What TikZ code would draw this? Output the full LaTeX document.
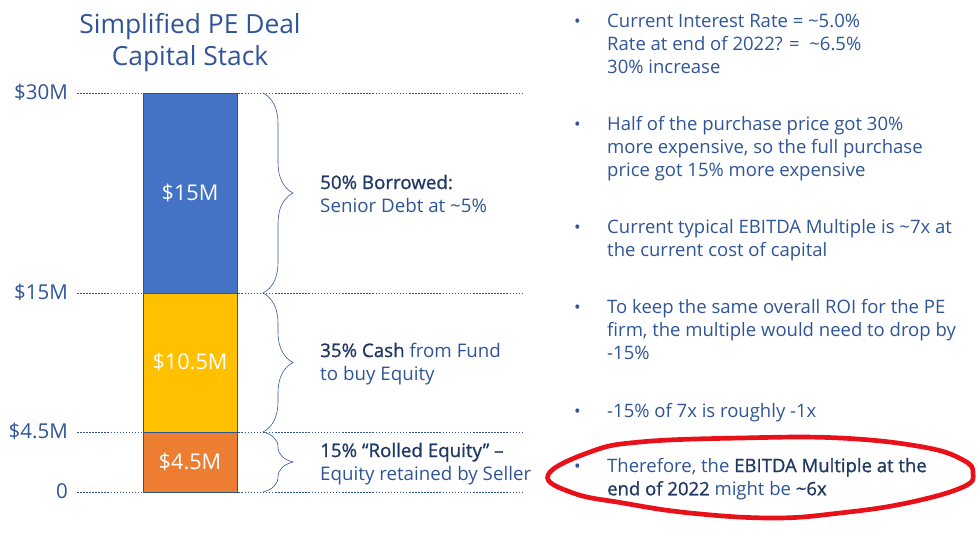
\documentclass[tikz,border=0pt]{standalone}
\usepackage{fontspec}
\setmainfont{Open Sans}
\newfontfamily\emfont{Open Sans}[FakeBold=1]
\usetikzlibrary{decorations.pathreplacing}
\definecolor{txtblue}{RGB}{47,85,151}
\definecolor{navy}{RGB}{31,56,100}
\definecolor{debtblue}{RGB}{68,114,196}
\definecolor{cashgold}{RGB}{255,192,0}
\definecolor{rollorange}{RGB}{237,125,49}
\definecolor{barline}{RGB}{47,82,143}
\definecolor{markred}{RGB}{232,17,25}
\newcommand{\hl}[1]{{\emfont\color{navy}#1}}

\begin{document}
\begin{tikzpicture}[x=0.3mm,y=-0.3mm,
  every node/.style={text=txtblue,inner sep=0pt},
  level/.style={txtblue,line width=0.6pt,dash pattern=on 1.3pt off 1.3pt},
  block/.style={draw=barline,line width=0.6pt},
  brc/.style={draw=txtblue,line width=0.5pt,decorate,decoration={brace,amplitude=9mm,aspect=0.5}},
  lbl/.style={font=\fontsize{16}{19.6}\selectfont,anchor=base west,align=left},
  tick/.style={font=\fontsize{17.5}{20}\selectfont,anchor=base east},
  inbar/.style={text=white,font=\fontsize{18.5}{20}\selectfont},
  pt/.style={font=\fontsize{15.8}{19.8}\selectfont,anchor=base west,align=left}]
\useasboundingbox (0,0) rectangle (980,539);

% (multi-line nodes sit on the baseline of their last line)
\node[font=\fontsize{22.5}{27}\selectfont,align=center,anchor=base] (title) at (190,65) {Simplified PE Deal\\Capital Stack};

% value levels
\foreach \y/\t in {93/\$30M,293/\$15M,432/\$4.5M,492/0}{
  \draw[level] (77,\y) -- (524,\y);
  \node[tick] at (68,\y+6) {\t};
}

% the stack
\draw[block,fill=debtblue] (143,93) rectangle (237,293);
\draw[block,fill=cashgold] (143,293) rectangle (237,432);
\draw[block,fill=rollorange] (143,432) rectangle (237,492);
\node[inbar] (debt) at (190,193) {\$15M};
\node[inbar] (cash) at (190,362) {\$10.5M};
\node[inbar] (roll) at (190,462) {\$4.5M};

\draw[brc] (263,93) -- (263,293);
\draw[brc] (263,293) -- (263,432);
\draw[brc] (263,432) -- (263,492);
\node[lbl] (debtlbl) at (320,212) {\hl{50\% Borrowed:}\\Senior Debt at \textasciitilde5\%};
\node[lbl] (cashlbl) at (320,380) {\hl{35\% Cash} from Fund\\to buy Equity};
\node[lbl] (rolllbl) at (320,480) {\hl{15\% “Rolled Equity” –}\\Equity retained by Seller};

% notes
\foreach \y in {27,130,233,313,417,472}
  \node[font=\fontsize{15}{16}\selectfont,anchor=base west] at (574,\y) {\textbullet};
\node[pt] (rate) at (607,73.6) {Current Interest Rate = \textasciitilde5.0\%\\Rate at end of 2022? = \ \textasciitilde6.5\%\\30\% increase};
\node[pt] (half) at (607,176.6) {Half of the purchase price got 30\%\\more expensive, so the full purchase\\price got 15\% more expensive};
\node[pt] (mult) at (607,256.3) {Current typical EBITDA Multiple is \textasciitilde7x at\\the current cost of capital};
\node[pt] (roi) at (607,359.6) {To keep the same overall ROI for the PE\\firm, the multiple would need to drop by\\-15\%};
\node[pt] (drop) at (607,417) {-15\% of 7x is roughly -1x};
\node[pt] (end) at (607,495.3) {Therefore, the \hl{EBITDA Multiple at the}\\\hl{end of 2022} might be \hl{\textasciitilde6x}};

\draw[markred,line width=4pt] plot[smooth cycle,tension=0.7] coordinates {
  (548,475) (590,452) (640,442) (740,438) (840,438) (923,447) (963,460) (973,473)
  (963,487) (907,503) (840,513) (773,518) (690,513) (623,503) (573,493)};
\end{tikzpicture}
\end{document}
